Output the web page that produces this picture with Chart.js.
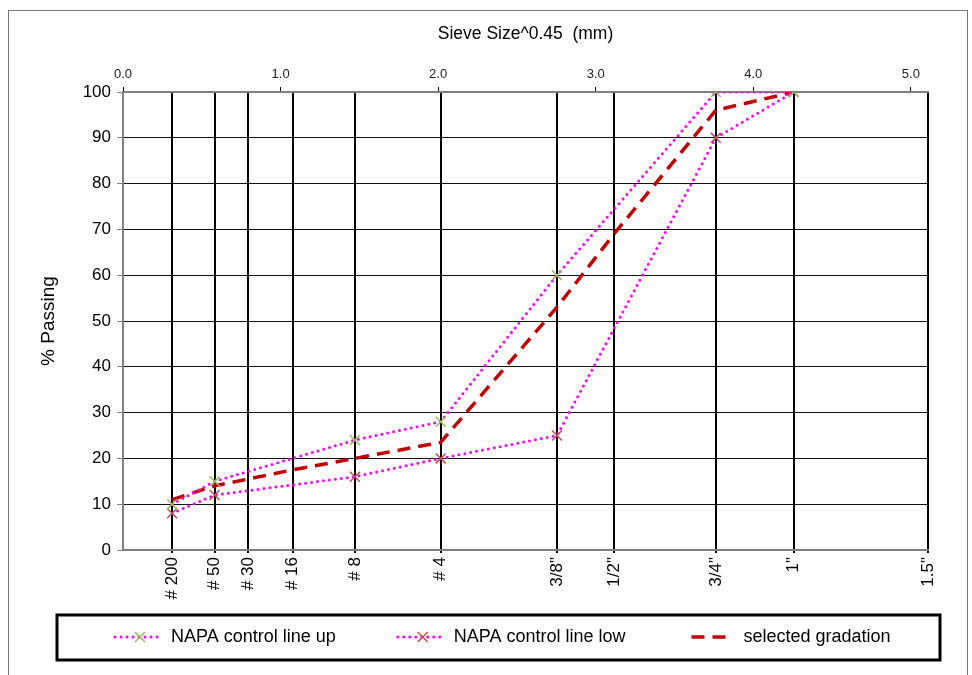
<!DOCTYPE html>
<html lang="en">

<head>
    <meta charset="UTF-8">
    <title>Gradation chart</title>
    <script src="https://cdn.jsdelivr.net/npm/chart.js"></script>
    <style>
        body { margin: 0; background: #fff; }
        #wrap { width: 972px; height: 675px; }
    </style>
</head>

<body>
    <div id="wrap"><canvas id="gradationChart" width="972" height="675"></canvas></div>

    <script>
        // sieves along the x axis (size in mm, plotted as size^0.45)
        const sieveNames = ['# 200', '# 50', '# 30', '# 16', '# 8', '# 4', '3/8"', '1/2"', '3/4"', '1"', '1.5"'];
        const sieveMm = [0.075, 0.3, 0.6, 1.18, 2.36, 4.75, 9.5, 12.5, 19, 25, 37.5];
        const topTicks = [0, 1, 2, 3, 4, 5];

        // % passing per sieve (null = no point on that sieve)
        const controlUp = [10, 15, null, null, 24, 28, 60, null, 100, 100, null];
        const controlLow = [8, 12, null, null, 16, 20, 25, null, 90, 100, null];
        const selectedGradation = [11, 14, 15.5, 17.5, 20, 23.5, 53, 69, 96, 100, null];

        const sieveX = sieveMm.map(mm => Math.pow(mm, 0.45));
        const xMax = sieveX[sieveX.length - 1];
        const FONT = 'Liberation Sans, Arial, sans-serif';

        function toPoints(values) {
            return sieveX.map((x, i) => ({ x: x, y: values[i] })).filter(p => p.y !== null);
        }

        function drawCross(ctx, x, y, r, color) {
            ctx.save();
            ctx.setLineDash([]);
            ctx.strokeStyle = color;
            ctx.lineWidth = 1.5;
            ctx.beginPath();
            ctx.moveTo(x - r, y - r); ctx.lineTo(x + r, y + r);
            ctx.moveTo(x + r, y - r); ctx.lineTo(x - r, y + r);
            ctx.stroke();
            ctx.restore();
        }

        // outer frame and the boxed legend underneath the plot
        const frameLegend = {
            id: 'frameLegend',
            afterDraw(chart) {
                const ctx = chart.ctx;
                ctx.save();
                ctx.strokeStyle = '#777';
                ctx.lineWidth = 1;
                ctx.strokeRect(8.5, 10.5, 959, 700);

                ctx.strokeStyle = '#000';
                ctx.lineWidth = 3;
                ctx.strokeRect(57, 615, 883, 45);

                const cy = 637;
                let x = 113;
                ctx.font = '18px ' + FONT;
                ctx.textBaseline = 'middle';
                ctx.fillStyle = '#000';
                chart.data.datasets.forEach(ds => {
                    ctx.save();
                    ctx.strokeStyle = ds.borderColor;
                    ctx.lineWidth = ds.borderWidth;
                    ctx.lineCap = ds.borderCapStyle || 'butt';
                    ctx.setLineDash(ds.borderDash || []);
                    ctx.beginPath();
                    if (ds.pointRadius) {
                        ctx.moveTo(x + 2, cy); ctx.lineTo(x + 50, cy);
                    } else {
                        ctx.moveTo(x + 6, cy); ctx.lineTo(x + 48, cy);
                    }
                    ctx.stroke();
                    ctx.restore();
                    if (ds.pointRadius) drawCross(ctx, x + 27, cy, 5, ds.pointBorderColor);
                    ctx.fillText(ds.label, x + 58, cy);
                    x += 58 + ctx.measureText(ds.label).width + 60;
                });
                ctx.restore();
            }
        };

        const ctx = document.getElementById('gradationChart').getContext('2d');
        const gradationChart = new Chart(ctx, {
            type: 'line',
            data: {
                datasets: [{
                    label: 'NAPA control line up',
                    data: toPoints(controlUp),
                    borderColor: '#ff00ff',
                    borderWidth: 3,
                    borderDash: [0, 6],
                    borderCapStyle: 'round',
                    pointStyle: 'crossRot',
                    pointRadius: 7,
                    pointBorderWidth: 1.5,
                    pointBorderColor: '#9bbb59',
                    pointBackgroundColor: 'transparent',
                    tension: 0
                }, {
                    label: 'NAPA control line low',
                    data: toPoints(controlLow),
                    borderColor: '#ff00ff',
                    borderWidth: 3,
                    borderDash: [0, 6],
                    borderCapStyle: 'round',
                    pointStyle: 'crossRot',
                    pointRadius: 7,
                    pointBorderWidth: 1.5,
                    pointBorderColor: '#c0504d',
                    pointBackgroundColor: 'transparent',
                    tension: 0
                }, {
                    label: 'selected gradation',
                    data: toPoints(selectedGradation),
                    borderColor: '#c00000',
                    borderWidth: 3.5,
                    borderDash: [13, 8],
                    pointRadius: 0,
                    tension: 0
                }]
            },
            options: {
                responsive: false,
                animation: false,
                layout: { padding: { top: 0, left: 0, right: 44, bottom: 60 } },
                plugins: {
                    tooltip: { enabled: false },
                    legend: { display: false }
                },
                scales: {
                    x: {
                        type: 'linear',
                        position: 'top',
                        min: 0,
                        max: xMax,
                        afterBuildTicks: scale => { scale.ticks = topTicks.map(v => ({ value: v })); },
                        afterFit: scale => { scale.height = 92; },
                        ticks: {
                            autoSkip: false,
                            maxRotation: 0,
                            padding: 5,
                            color: '#222',
                            font: { family: FONT, size: 13 },
                            callback: v => Number(v).toFixed(1)
                        },
                        grid: { drawOnChartArea: false, tickLength: 5, tickColor: '#000' },
                        border: { color: '#808080', width: 2 },
                        title: {
                            display: true,
                            text: 'Sieve Size^0.45  (mm)',
                            color: '#000',
                            padding: { top: 24, bottom: 0 },
                            font: { family: FONT, size: 17.5 }
                        }
                    },
                    x2: {
                        type: 'linear',
                        position: 'bottom',
                        min: 0,
                        max: xMax,
                        afterBuildTicks: scale => { scale.ticks = sieveX.map(v => ({ value: v })); },
                        afterFit: scale => { scale.height = 65; },
                        ticks: {
                            autoSkip: false,
                            minRotation: 90,
                            maxRotation: 90,
                            padding: 4,
                            color: '#000',
                            font: { family: FONT, size: 17 },
                            callback: (v, i) => sieveNames[i]
                        },
                        grid: { color: '#000', lineWidth: 2, tickLength: 3 },
                        border: { color: '#808080', width: 2 }
                    },
                    y: {
                        min: 0,
                        max: 100,
                        afterFit: scale => { scale.width = 123; },
                        ticks: {
                            stepSize: 10,
                            padding: 6,
                            color: '#000',
                            font: { family: FONT, size: 17 }
                        },
                        grid: { color: '#111', lineWidth: 1, tickLength: 6, tickColor: '#808080' },
                        border: { color: '#808080', width: 2 },
                        title: {
                            display: true,
                            text: '% Passing',
                            color: '#000',
                            padding: { top: 37, bottom: 0 },
                            font: { family: FONT, size: 19 }
                        }
                    }
                }
            },
            plugins: [frameLegend]
        });
    </script>
</body>

</html>
